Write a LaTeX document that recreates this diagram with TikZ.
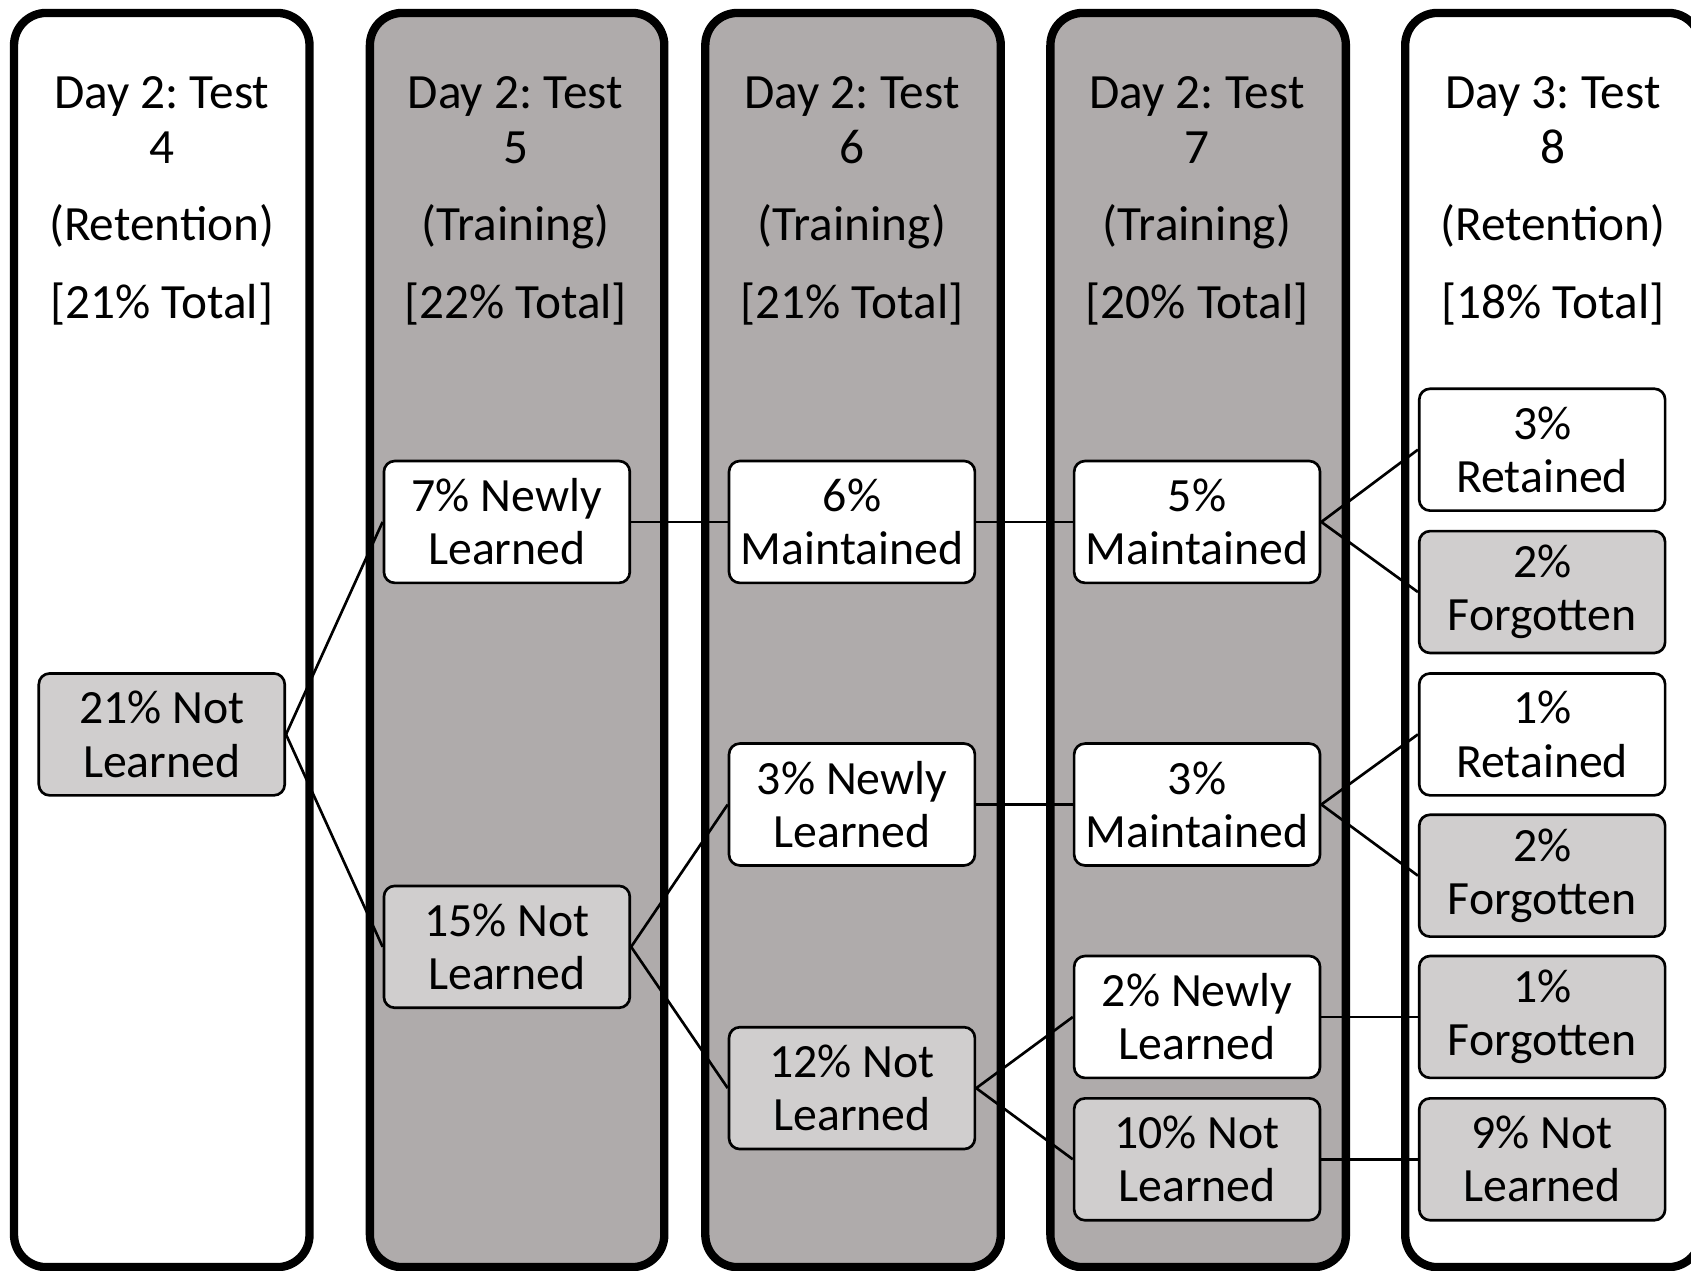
\documentclass[tikz,border=0pt]{standalone}
\usepackage{fontspec}
\setmainfont{Carlito}
\frenchspacing
\definecolor{colgray}{HTML}{AFABAB}
\definecolor{boxgray}{HTML}{D0CECE}
\tikzset{
  col/.style={line width=2.2pt,rounded corners=0.3cm},
  box/.style={draw,line width=0.7pt,rounded corners=0.1cm,minimum width=2.28cm,
    minimum height=1.13cm,inner sep=0pt,align=center,font=\fontsize{12.6}{14}\selectfont},
  notl/.style={box,fill=boxgray},
  kept/.style={box,fill=white},
  head/.style={align=center,font=\fontsize{13}{14.5}\selectfont}
}
\begin{document}
\begin{tikzpicture}[x=0.1mm,y=-0.1mm]
\useasboundingbox (0,0) rectangle (1568,1178);
% test columns
\draw[col,fill=white]   (13,12) rectangle (287,1175);
\draw[col,fill=colgray] (343,12) rectangle (616,1175);
\draw[col,fill=colgray] (654,12) rectangle (928,1175);
\draw[col,fill=colgray] (974,12) rectangle (1248,1175);
\draw[col,fill=white]   (1303,12) rectangle (1577,1175);

\node[head] (h4) at (150,186) {Day 2: Test\\4\\[0.21cm](Retention)\\[0.21cm][21\% Total]};
\node[head] (h5) at (478,186) {Day 2: Test\\5\\[0.21cm](Training)\\[0.21cm][22\% Total]};
\node[head] (h6) at (790,186) {Day 2: Test\\6\\[0.21cm](Training)\\[0.21cm][21\% Total]};
\node[head] (h7) at (1110,186) {Day 2: Test\\7\\[0.21cm](Training)\\[0.21cm][20\% Total]};
\node[head] (h8) at (1440,186) {Day 3: Test\\8\\[0.21cm](Retention)\\[0.21cm][18\% Total]};

\node[notl] (n4) at (150,681) {21\% Not\\Learned};

\node[kept] (l5) at (470,484) {7\% Newly\\Learned};
\node[notl] (n5) at (470,878) {15\% Not\\Learned};

\node[kept] (m6) at (790,484) {6\%\\Maintained};
\node[kept] (l6) at (790,746) {3\% Newly\\Learned};
\node[notl] (n6) at (790,1009) {12\% Not\\Learned};

\node[kept] (m7a) at (1110,484) {5\%\\Maintained};
\node[kept] (m7b) at (1110,746) {3\%\\Maintained};
\node[kept] (l7) at (1110,943) {2\% Newly\\Learned};
\node[notl] (n7) at (1110,1075) {10\% Not\\Learned};

\node[kept] (r8a) at (1430,417) {3\%\\Retained};
\node[notl] (f8a) at (1430,549) {2\%\\Forgotten};
\node[kept] (r8b) at (1430,681) {1\%\\Retained};
\node[notl] (f8b) at (1430,812) {2\%\\Forgotten};
\node[notl] (f8c) at (1430,943) {1\%\\Forgotten};
\node[notl] (n8) at (1430,1075) {9\% Not\\Learned};

\foreach \a/\b in {n4/l5,n4/n5,l5/m6,n5/l6,n5/n6,m6/m7a,l6/m7b,n6/l7,n6/n7,
    m7a/r8a,m7a/f8a,m7b/r8b,m7b/f8b,l7/f8c,n7/n8}
  \draw[line width=0.7pt] (\a.east) -- (\b.west);
\end{tikzpicture}
\end{document}
